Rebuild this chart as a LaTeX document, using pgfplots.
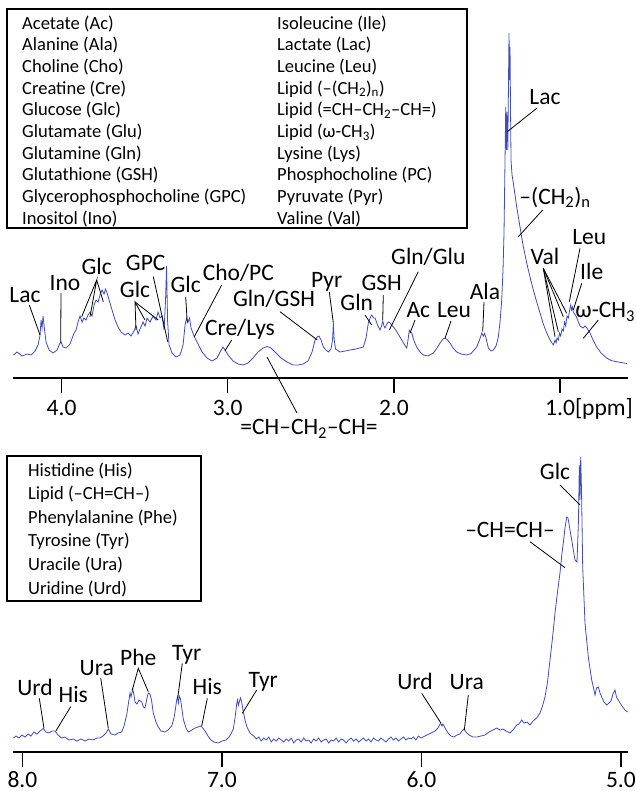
\documentclass[border=0pt]{standalone}
\usepackage{pgfplots}
\pgfplotsset{compat=1.18}
\usepackage{fontspec}
\setmainfont{Carlito}
\definecolor{spec}{RGB}{62,78,188}
\newcommand{\lbl}{\fontsize{23.6}{28}\selectfont}
\newcommand{\leg}{\fontsize{18.6}{22}\selectfont}

\pgfplotstableread{
x y
4.2900 23
4.2678 26
4.2377 22
4.2076 24
4.1835 23
4.1595 27
4.1414 33
4.1294 43
4.1234 58
4.1173 50
4.1113 62
4.1023 48
4.0933 36
4.0752 28
4.0512 25
4.0271 28
4.0120 34
4.0030 36
3.9910 31
3.9729 30
3.9489 34
3.9248 45
3.9128 48
3.9007 56
3.8887 62
3.8767 56
3.8646 60
3.8526 58
3.8406 63
3.8285 66
3.8165 62
3.8045 73
3.7924 78
3.7804 76
3.7684 83
3.7563 88
3.7443 84
3.7353 89
3.7262 85
3.7142 78
3.6962 68
3.6781 58
3.6601 51
3.6420 46
3.6179 43
3.5999 45
3.5818 42
3.5638 47
3.5518 52
3.5397 44
3.5277 49
3.5096 56
3.4976 52
3.4856 60
3.4675 56
3.4495 62
3.4314 58
3.4194 66
3.4074 60
3.3953 62
3.3833 48
3.3743 78
3.3682 112
3.3622 58
3.3532 33
3.3352 25
3.3111 21
3.2870 23
3.2690 33
3.2569 53
3.2479 60
3.2389 56
3.2299 60
3.2208 50
3.2028 42
3.1787 34
3.1546 26
3.1246 20
3.0945 17
3.0644 20
3.0463 26
3.0283 31
3.0163 28
2.9982 23
2.9681 17
2.9380 14
2.9080 13
2.8779 15
2.8478 20
2.8177 26
2.7876 30
2.7636 31.5
2.7395 30
2.7094 25
2.6793 20
2.6432 16
2.6071 13
2.5770 13
2.5469 14
2.5169 17
2.4928 26
2.4748 38
2.4627 41
2.4507 42
2.4386 38
2.4248 31
2.4086 28
2.3947 26
2.3785 29
2.3695 38
2.3646 55
2.3592 38
2.3514 29
2.3243 26
2.2942 27
2.2642 28
2.2281 29
2.1841 31
2.1679 40
2.1541 55
2.1438 60
2.1336 63
2.1228 60
2.1137 60
2.0987 53
2.0837 48
2.0746 52
2.0674 57
2.0596 52
2.0536 50
2.0427 54
2.0337 56
2.0235 55
2.0133 53
1.9934 49
1.9633 41
1.9393 34
1.9230 30
1.9152 38
1.9074 48
1.9001 46
1.8929 45
1.8791 37
1.8628 31
1.8430 26
1.8231 23
1.7948 22
1.7630 25
1.7407 30
1.7226 35
1.7046 39
1.6926 40
1.6775 38
1.6625 35
1.6444 30
1.6222 26
1.5963 24
1.5620 23
1.5361 24.5
1.5018 31
1.4850 38
1.4717 45
1.4621 42
1.4549 44.5
1.4459 40
1.4320 30
1.4158 27
1.4019 28
1.3857 32
1.3718 41
1.3616 56
1.3514 78
1.3436 108
1.3376 145
1.3315 218
1.3273 271
1.3231 228
1.3195 266
1.3147 228
1.3105 298
1.3075 345
1.3045 298
1.3014 331
1.2984 268
1.2954 218
1.2894 203
1.2816 195
1.2611 171
1.2413 151
1.2232 133
1.2010 115
1.1811 101
1.1613 88
1.1408 76
1.1209 65
1.1011 54
1.0806 45
1.0608 38
1.0409 33
1.0307 38
1.0247 35
1.0186 40
1.0108 38
1.0036 45
0.9964 42
0.9886 49
0.9807 47
0.9735 56
0.9663 52
0.9585 62
0.9507 60
0.9404 70
0.9362 73
0.9314 68
0.9254 71
0.9206 66
0.9043 62
0.8803 52
0.8622 50
0.8502 52
0.8381 50
0.8201 45
0.8020 38
0.7798 31
0.7539 25
0.7196 20
0.6937 17.5
0.6594 16.3
0.6336 15.5
0.5975 14.5
}\topdata

\pgfplotstableread{
x y
8.0446 14
8.0321 16
8.0170 14
8.0020 17
7.9870 15
7.9719 18
7.9569 16
7.9419 20
7.9268 18
7.9118 21
7.8952 23.5
7.8817 20
7.8667 19
7.8516 21
7.8366 21
7.8216 17
7.8030 14
7.7865 15
7.7664 12
7.7449 13
7.7263 11
7.7063 13
7.6862 11
7.6662 13
7.6461 12
7.6261 14
7.6110 14
7.5960 16
7.5810 19
7.5694 23
7.5559 18
7.5358 17
7.5208 19
7.5023 20
7.4907 26
7.4772 37
7.4682 49
7.4607 59
7.4556 55
7.4471 63
7.4406 57
7.4356 50
7.4256 48
7.4155 52
7.4020 50
7.3930 45
7.3855 44
7.3754 54
7.3689 59
7.3604 58
7.3529 52
7.3439 39
7.3303 30
7.3188 25
7.3053 21
7.2852 20
7.2702 22
7.2516 26
7.2401 34
7.2351 40
7.2266 52
7.2226 55
7.2176 49
7.2135 56
7.2075 53
7.2025 46
7.1935 33
7.1800 24
7.1684 20
7.1499 22
7.1348 24
7.1198 25
7.1098 26
7.0998 25
7.0847 21
7.0697 16
7.0546 12
7.0396 10
7.0180 9
6.9995 11
6.9795 12
6.9644 15
6.9544 18
6.9429 23
6.9343 34
6.9258 48
6.9218 52
6.9168 47
6.9118 51
6.9068 54
6.9008 50
6.8942 42
6.8842 32
6.8742 25
6.8592 19
6.8400 16
6.8275 13
6.8150 15
6.8025 11
6.7900 14
6.7775 12
6.7650 15
6.7525 10
6.7400 13
6.7275 11
6.7150 14
6.7025 12
6.6900 10
6.6775 13
6.6650 11
6.6525 14
6.6400 9
6.6275 12
6.6150 13
6.6025 10
6.5900 14
6.5775 11
6.5650 12
6.5525 9
6.5400 13
6.5275 11
6.5150 14
6.5025 10
6.4900 12
6.4775 13
6.4650 9
6.4525 12
6.4400 11
6.4275 14
6.4150 10
6.4025 13
6.3900 12
6.3775 9
6.3650 12
6.3525 14
6.3400 11
6.3275 13
6.3150 10
6.3025 12
6.2900 14
6.2775 11
6.2650 13
6.2525 10
6.2400 14
6.2275 12
6.2150 11
6.2025 14
6.1900 12
6.1775 10
6.1650 13
6.1525 15
6.1400 12
6.1275 14
6.1150 11
6.1025 13
6.0900 15
6.0775 12
6.0650 14
6.0525 13
6.0400 15
6.0275 12
6.0150 16
6.0025 14
5.9920 15
5.9719 17
5.9519 19
5.9318 21
5.9168 24
5.9033 29
5.8968 26
5.8917 28
5.8817 24
5.8667 19
5.8516 16
5.8366 15
5.8216 17
5.8065 18
5.7965 21
5.7865 23
5.7765 20
5.7614 17
5.7414 15
5.7213 15
5.7013 16
5.6812 17
5.6612 20
5.6411 22
5.6226 24
5.6060 22
5.5910 23
5.5760 21
5.5559 19
5.5409 22
5.5223 27
5.5108 28
5.4973 32
5.4857 29
5.4707 30
5.4557 27
5.4406 31
5.4221 34
5.4055 39
5.3930 46
5.3805 55
5.3679 70
5.3554 92
5.3429 114
5.3303 139
5.3178 160
5.3053 179
5.2953 199
5.2887 209
5.2802 224
5.2717 235
5.2652 234
5.2577 225
5.2466 212
5.2376 201
5.2301 192
5.2201 190
5.2126 232
5.2085 287
5.2050 252
5.2015 295
5.1975 262
5.1915 185
5.1800 129
5.1634 95
5.1464 72
5.1349 62
5.1298 57
5.1223 64
5.1133 65
5.1048 59
5.0963 55
5.0847 50
5.0712 47
5.0597 49
5.0496 51
5.0396 58
5.0296 62
5.0221 55
5.0130 52
5.0045 49
4.9945 46
4.9795 42
4.9669 40
}\botdata

\begin{document}
\begin{tikzpicture}[x=1bp,y=-1bp]
\path[use as bounding box] (0,0) rectangle (636,791);

\pgfplotsset{spec axis/.style={
  scale only axis, x dir=reverse,
  axis x line=bottom, axis y line=none,
  x axis line style={-, line width=1.3bp, black},
  tick align=outside, major tick length=15bp,
  every tick/.style={black, line width=1.3bp},
  xticklabel style={font=\lbl, inner sep=0pt, anchor=base},
  clip=false,
}}

\begin{axis}[spec axis, at={(13bp,-378bp)}, anchor=south west,
  width=615bp, height=358bp,
  xmin=0.5915, xmax=4.2923, ymin=0, ymax=358,
  xticklabel style={yshift=-22bp},
  xtick={1,2,3,4}, xticklabels={{1.0\rlap{[ppm]}},2.0,3.0,4.0}]
\addplot[spec, line width=0.8bp, no marks] table[x=x,y=y] {\topdata};
\end{axis}

\begin{axis}[spec axis, at={(13.5bp,-752bp)}, anchor=south west,
  width=614.5bp, height=312bp,
  xmin=4.9644, xmax=8.0446, ymin=0, ymax=312,
  xticklabel style={yshift=-20.5bp},
  xtick={5,6,7,8}, xticklabels={5.0,6.0,7.0,8.0}]
\addplot[spec, line width=0.8bp, no marks] table[x=x,y=y] {\botdata};
\end{axis}

% legend boxes
\draw[line width=2bp] (7,9) rectangle (467,228);
\begin{scope}[every node/.style={inner sep=0pt, anchor=base west, font=\leg}]
\node at (22,29.3) {Acetate (Ac)};
\node at (22,50.9) {Alanine (Ala)};
\node at (22,72.6) {Choline (Cho)};
\node at (22,94.2) {Creatine (Cre)};
\node at (22,115.8) {Glucose (Glc)};
\node at (22,137.5) {Glutamate (Glu)};
\node at (22,159.1) {Glutamine (Gln)};
\node at (22,180.7) {Glutathione (GSH)};
\node at (22,202.3) {Glycerophosphocholine (GPC)};
\node at (22,224.0) {Inositol (Ino)};
\node at (277,29.3) {Isoleucine (Ile)};
\node at (277,50.9) {Lactate (Lac)};
\node at (277,72.6) {Leucine (Leu)};
\node at (277,94.2) {Lipid (–(CH\textsubscript{2})\textsubscript{n})};
\node at (277,115.8) {Lipid (=CH–CH\textsubscript{2}–CH=)};
\node at (277,137.5) {Lipid (ω-CH\textsubscript{3})};
\node at (277,159.1) {Lysine (Lys)};
\node at (277,180.7) {Phosphocholine (PC)};
\node at (277,202.3) {Pyruvate (Pyr)};
\node at (277,224.0) {Valine (Val)};
\end{scope}

\draw[line width=2bp] (7,456) rectangle (201,601);
\begin{scope}[every node/.style={inner sep=0pt, anchor=base west, font=\leg}]
\node at (28,476) {Histidine (His)};
\node at (28,499.6) {Lipid (–CH=CH–)};
\node at (28,523.2) {Phenylalanine (Phe)};
\node at (28,546.8) {Tyrosine (Tyr)};
\node at (28,570.4) {Uracile (Ura)};
\node at (28,594) {Uridine (Urd)};
\end{scope}

% annotations
\begin{scope}[every node/.style={inner sep=0pt, anchor=base, font=\lbl}, line width=0.8bp]
\node at (25,302.5) {Lac}; \draw (29.3,305) -- (40,335);
\node at (65,290.2) {Ino}; \draw (61,293) -- (60.7,342.7);
\node at (96.7,274.2) {Glc}; \draw (81.7,316.7) -- (96.7,280) -- (90,316.7); \draw (96.7,280) -- (103.3,301.7);
\node at (135,297.5) {Glc}; \draw (136,330) -- (135,302) -- (145,320); \draw (135,302) -- (158.3,320);
\node at (145.7,270.8) {GPC}; \draw (153.3,276.7) -- (167.7,341.7);
\node at (185.7,292.5) {Glc}; \draw (185.7,297) -- (187.3,323.3);
\node at (238.3,280.8) {Cho/PC}; \draw (221.7,285) -- (194.3,336.7);
\node at (240,335.8) {Cre/Lys}; \draw (231.7,340) -- (225,350.7);
\node at (274,306.8) {Gln/GSH}; \draw (280,311.7) -- (317.3,340);
\node[anchor=base west] at (240,434.5) {=CH–CH\textsubscript{2}–CH=}; \draw (297,413) -- (267,357);
\node at (326.7,287.5) {Pyr}; \draw (329.3,292) -- (333.3,322.7);
\node at (356.7,310.8) {Gln}; \draw (365,315) -- (371.7,325);
\node at (381.7,290.8) {GSH}; \draw (383.3,295) -- (382.7,320);
\node at (428.3,264.2) {Gln/Glu}; \draw (418.3,271.7) -- (389.3,330);
\node at (418.3,317.5) {Ac}; \draw (415,320) -- (410,333.3);
\node at (454,317.5) {Leu}; \draw (451,321) -- (445,338.3);
\node at (485,299.2) {Ala}; \draw (484,302) -- (482.7,331.7);
\node at (545,104.2) {Lac}; \draw (536.7,108.3) -- (507.3,131.7);
\node at (555,204.2) {–(CH\textsubscript{2})\textsubscript{n}}; \draw (542.7,210) -- (518.3,236.7);
\node at (545,264.2) {Val};
\draw (543.3,268.3) -- (555,336.7); \draw (543.3,268.3) -- (558.3,331.7);
\draw (543.3,268.3) -- (563.3,316.7); \draw (543.3,268.3) -- (566.7,313.3);
\node at (589.3,244.2) {Leu}; \draw (580,248.3) -- (569.3,301.7);
\node at (591.7,279.2) {Ile}; \draw (581.7,283.3) -- (573.3,310);
\node[anchor=base west] at (575,317.5) {ω-CH\textsubscript{3}}; \draw (598.3,320) -- (583.3,338.3);
% bottom
\node at (35,695.8) {Urd}; \draw (39.3,698.3) -- (44,728.3);
\node at (73.3,702.5) {His}; \draw (70.7,706.7) -- (56,730.7);
\node at (96.7,675.8) {Ura}; \draw (100.7,678) -- (108.3,728.3);
\node at (138.3,665.8) {Phe}; \draw (132.3,690) -- (138.3,668.3) -- (148.3,691.7);
\node at (186.7,660.8) {Tyr}; \draw (182.3,663.3) -- (177.7,698.3);
\node at (207.3,694.2) {His}; \draw (207.3,698.3) -- (201.7,726);
\node at (263.3,687.5) {Tyr}; \draw (256.7,690) -- (242.3,713.3);
\node at (415,689.2) {Urd}; \draw (421.7,693.3) -- (440.7,722.7);
\node at (466.7,689.2) {Ura}; \draw (468.3,695) -- (464.3,730);
\node at (510,537.5) {–CH=CH–}; \draw (530,541.7) -- (565,567.7);
\node at (555,479.8) {Glc}; \draw (560,485) -- (580,505);
\end{scope}
\end{tikzpicture}
\end{document}
